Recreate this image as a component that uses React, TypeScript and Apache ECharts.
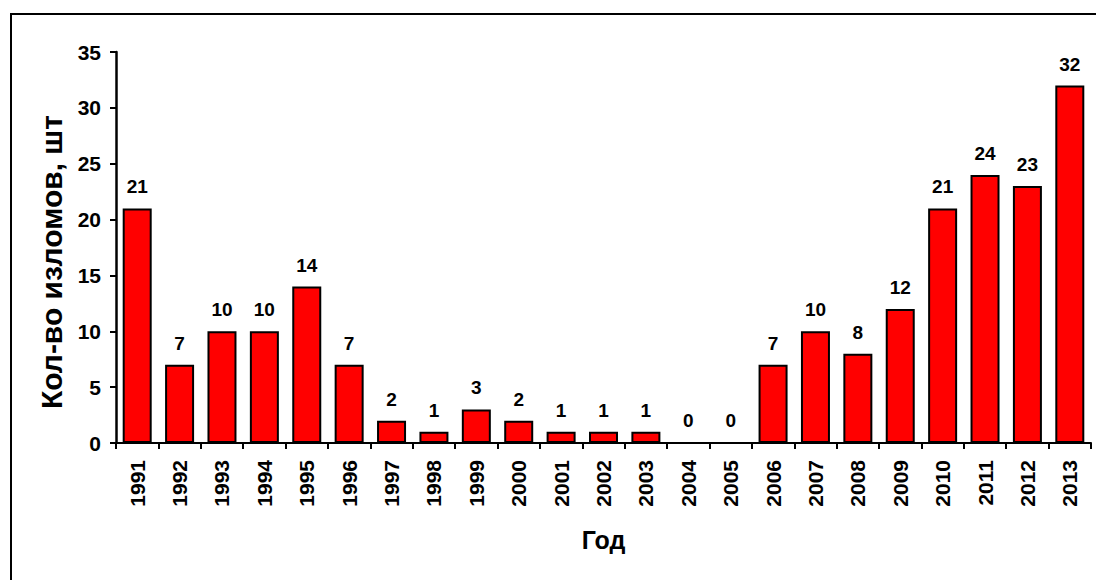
import React, { useEffect, useRef } from "react";
import * as echarts from "echarts";

const years = ["1991","1992","1993","1994","1995","1996","1997","1998","1999","2000","2001","2002","2003","2004","2005","2006","2007","2008","2009","2010","2011","2012","2013"];
const breaks = [21,7,10,10,14,7,2,1,3,2,1,1,1,0,0,7,10,8,12,21,24,23,32];
const yTitle = "Кол-во изломов, шт";
const xTitle = "Год";

const FONT = "'Liberation Sans', Arial, sans-serif";

export default function App() {
  const ref = useRef<HTMLDivElement>(null);
  useEffect(() => {
    if (!ref.current) return;
    const chart = echarts.init(ref.current, undefined, { renderer: "svg" });
    chart.setOption({
      animation: false,
      backgroundColor: "#ffffff",
      textStyle: { fontFamily: FONT },
      grid: { left: 116, top: 52, right: 5, bottom: 137, containLabel: false },
      xAxis: {
        type: "category",
        data: years,
        name: xTitle,
        nameLocation: "middle",
        nameGap: 84,
        nameTextStyle: { fontFamily: FONT, fontWeight: "bold", fontSize: 25, color: "#000" },
        axisLine: { lineStyle: { color: "#000", width: 2 } },
        axisTick: { show: true, inside: false, length: 6, lineStyle: { color: "#000", width: 2 } },
        axisLabel: { rotate: 90, margin: 17, fontFamily: FONT, fontWeight: "bold", fontSize: 21, color: "#000", interval: 0 },
        splitLine: { show: false },
      },
      yAxis: {
        type: "value",
        min: 0,
        max: 35,
        interval: 5,
        axisLine: { show: true, lineStyle: { color: "#000", width: 2.5 } },
        axisTick: { show: true, inside: false, length: 6, lineStyle: { color: "#000", width: 2 } },
        axisLabel: { margin: 15, fontFamily: FONT, fontWeight: "bold", fontSize: 21, color: "#000" },
        splitLine: { show: false },
      },
      graphic: [
        {
          type: "rect",
          shape: { x: 11, y: 14, width: 1200, height: 1000 },
          style: { fill: "none", stroke: "#000", lineWidth: 2 },
          silent: true,
          z: 0,
        },
        {
          type: "text",
          x: 51,
          y: 262,
          rotation: Math.PI / 2,
          style: {
            text: yTitle,
            fontFamily: FONT,
            fontWeight: "bold",
            fontSize: 30,
            fill: "#000",
            align: "center",
            verticalAlign: "middle",
          },
        },
      ],
      series: [
        {
          type: "bar",
          data: breaks,
          barWidth: 29,
          itemStyle: { color: "#ff0000", borderColor: "#000", borderWidth: 2 },
          label: {
            show: true,
            position: "top",
            distance: 12,
            fontFamily: FONT,
            fontWeight: "bold",
            fontSize: 19,
            color: "#000",
          },
        },
      ],
    });
    return () => chart.dispose();
  }, []);
  return (
    <div
      ref={ref}
      style={{ position: "fixed", left: 0, top: 0, width: 1096, height: 580 }}
    />
  );
}
